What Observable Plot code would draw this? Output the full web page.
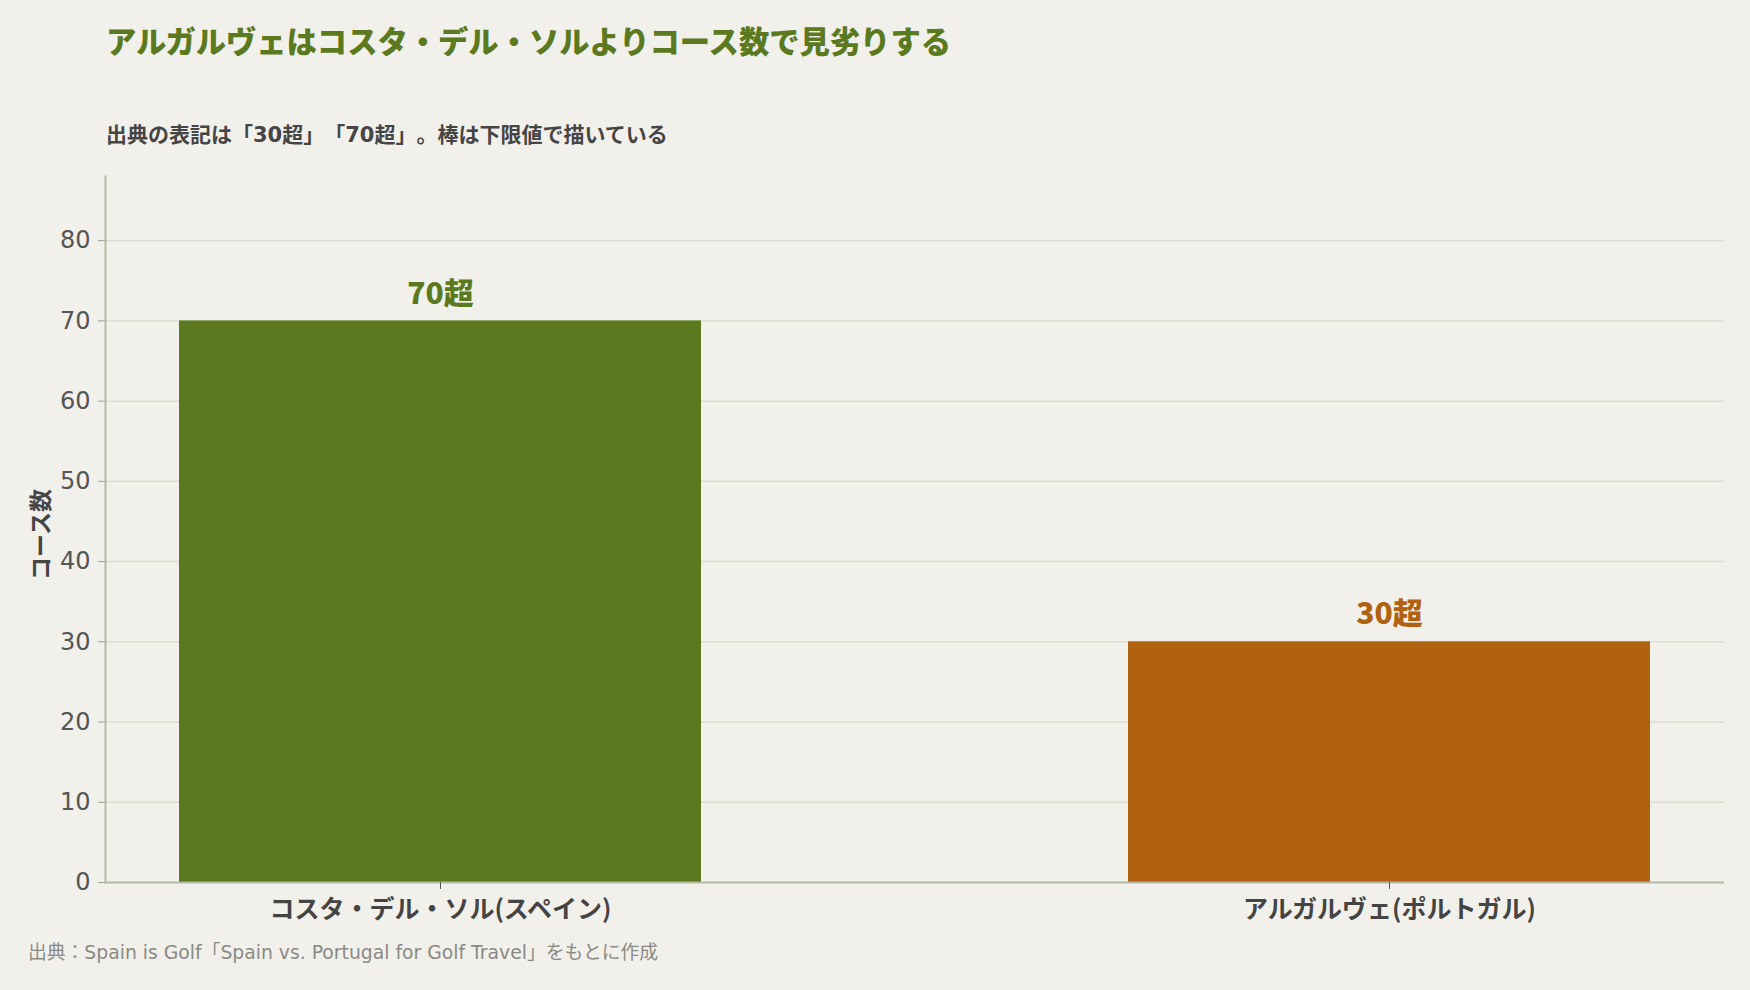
<!DOCTYPE html>
<html lang="ja">
<head>
<meta charset="utf-8">
<script src="https://cdn.jsdelivr.net/npm/d3@7"></script>
<script src="https://cdn.jsdelivr.net/npm/@observablehq/plot@0.6"></script>
<style>
  html, body { margin: 0; padding: 0; background: #f2f0ea; text-spacing-trim: space-all; }
  #wrap { position: relative; width: 1750px; height: 990px; background: #f2f0ea; font-family: "Noto Sans CJK JP", "Noto Sans", sans-serif; overflow: hidden; text-spacing-trim: space-all; }
  #title { position: absolute; left: 106px; top: 22px; font-size: 30.3px; line-height: 36px; font-weight: 800; color: #5b7a1f; white-space: nowrap; }
  #subtitle { position: absolute; left: 106px; top: 123px; font-family: "DejaVu Sans", "Noto Sans CJK JP", sans-serif; font-size: 21px; line-height: 24px; font-weight: 700; color: #454545; white-space: nowrap; }
  #chart { position: absolute; left: 0; top: 150px; }
  #caption { position: absolute; left: 28px; top: 941px; font-family: "DejaVu Sans", "Noto Sans CJK JP", sans-serif; font-size: 18.8px; line-height: 24px; font-weight: 400; color: #8a8a85; white-space: nowrap; }
</style>
</head>
<body>
<div id="wrap">
  <div id="title">アルガルヴェはコスタ・デル・ソルよりコース数で見劣りする</div>
  <div id="subtitle">出典の表記は「30超」「70超」。棒は下限値で描いている</div>
  <div id="chart"></div>
  <div id="caption">出典：Spain is Golf「Spain vs. Portugal for Golf Travel」をもとに作成</div>
</div>
<script>
const regions = ["コスタ・デル・ソル(スペイン)", "アルガルヴェ(ポルトガル)"];
const courses = [70, 30];
const valueLabels = ["70超", "30超"];
const barColors = ["#5b7a1f", "#b06210"];
const yTicks = [0, 10, 20, 30, 40, 50, 60, 70, 80];
const yLabel = "コース数";

const data = regions.map((r, i) => ({region: r, value: courses[i], label: valueLabels[i]}));

const chart = Plot.plot({
  width: 1750,
  height: 790,
  marginTop: 26,
  marginBottom: 58,
  marginLeft: 105,
  marginRight: 26,
  style: {background: "transparent", fontFamily: "'Noto Sans CJK JP', sans-serif", overflow: "visible"},
  x: {type: "band", domain: regions, paddingInner: 0.45, paddingOuter: 0.078, label: null},
  y: {domain: [0, 88], label: null},
  color: {domain: regions, range: barColors},
  marks: [
    Plot.gridY(yTicks.filter(d => d > 0), {stroke: "#dcdcd0", strokeOpacity: 1, strokeWidth: 1.5}),
    Plot.barY(data, {x: "region", y: "value", fill: "region"}),
    Plot.ruleY([0], {stroke: "#b4b9a7", strokeWidth: 2}),
    Plot.frame({anchor: "left", stroke: "#b4b9a7", strokeWidth: 2}),
    Plot.axisY({ticks: yTicks, tickSize: 7, tickPadding: 8, fontSize: 24, fontFamily: "DejaVu Sans", fill: "#555", stroke: "#9a9e90", label: null}),
    Plot.axisX({tickSize: 7, tickPadding: 11, fontSize: 25, fontWeight: 600, fill: "#444", stroke: "#555", label: null}),
    Plot.text([yLabel], {frameAnchor: "left", textAnchor: "middle", dx: -64, dy: 5, rotate: -90, fontSize: 23, fontWeight: 700, fill: "#454545"}),
    Plot.text(data, {x: "region", y: "value", text: "label", dy: -27, fontSize: 30, fontWeight: 800, fill: "region"})
  ]
});
document.getElementById("chart").appendChild(chart);
</script>
</body>
</html>
